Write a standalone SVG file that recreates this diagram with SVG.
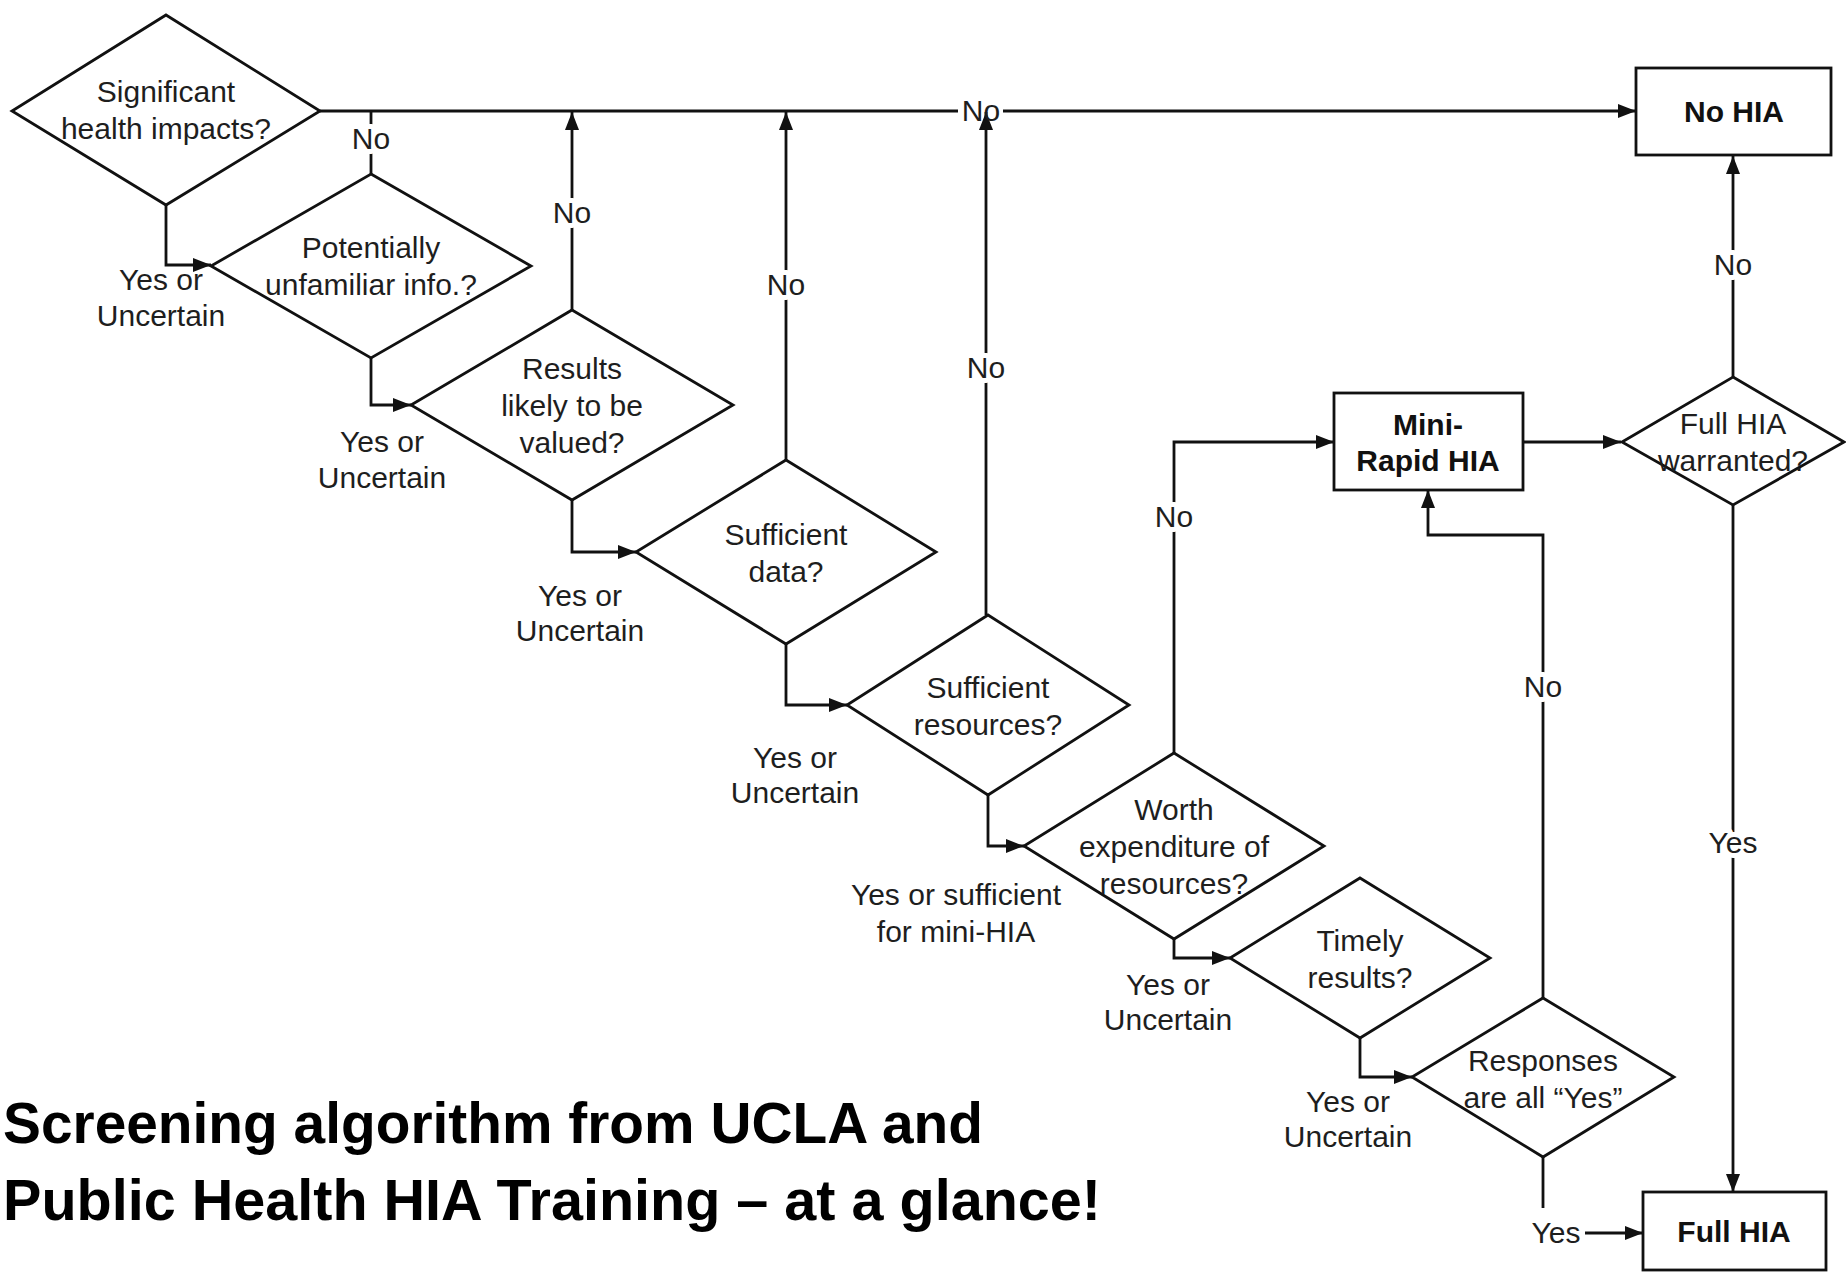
<svg xmlns="http://www.w3.org/2000/svg" width="1846" height="1273" viewBox="0 0 1846 1273">
<style>
.shape{fill:#fff;stroke:#111;stroke-width:2.8}
.t{font-family:"Liberation Sans",Arial,sans-serif;font-size:30px;fill:#1e1e1e;text-anchor:middle}
.b{font-weight:bold;fill:#111}
.halo{stroke:#fff;stroke-width:10;paint-order:stroke;stroke-linejoin:round}
.c{fill:none;stroke:#111;stroke-width:2.8}
.title{font-family:"Liberation Sans",Arial,sans-serif;font-size:58px;font-weight:bold;fill:#000}
</style>
<defs>
<marker id="ah" markerUnits="userSpaceOnUse" markerWidth="18" markerHeight="14" refX="18" refY="7" orient="auto">
<path d="M0,0 L18,7 L0,14 z" fill="#111"/>
</marker>
</defs>
<rect width="1846" height="1273" fill="#fff"/>

<g id="connectors">
<path class="c" d="M320,111 H958"/>
<path class="c" d="M1003,111 H1636" marker-end="url(#ah)"/>
<path class="c" d="M371,174 V111"/>
<path class="c" d="M572,310 V112" marker-end="url(#ah)"/>
<path class="c" d="M786,460 V112" marker-end="url(#ah)"/>
<path class="c" d="M986,615 V112" marker-end="url(#ah)"/>
<path class="c" d="M1174,753 V442 H1334" marker-end="url(#ah)"/>
<path class="c" d="M1523,442 H1621" marker-end="url(#ah)"/>
<path class="c" d="M1543,998 V535 H1428 V490" marker-end="url(#ah)"/>
<path class="c" d="M1733,377 V156" marker-end="url(#ah)"/>
<path class="c" d="M1733,505 V1192" marker-end="url(#ah)"/>
<path class="c" d="M1543,1157 V1208"/>
<path class="c" d="M1585,1233 H1643" marker-end="url(#ah)"/>
<path class="c" d="M166,205 V265 H211" marker-end="url(#ah)"/>
<path class="c" d="M371,358 V405 H411" marker-end="url(#ah)"/>
<path class="c" d="M572,500 V552 H636" marker-end="url(#ah)"/>
<path class="c" d="M786,644 V705 H847" marker-end="url(#ah)"/>
<path class="c" d="M988,795 V846 H1024" marker-end="url(#ah)"/>
<path class="c" d="M1174,939 V958 H1230" marker-end="url(#ah)"/>
<path class="c" d="M1360,1038 V1077 H1412" marker-end="url(#ah)"/>
</g>

<g id="labels">
<text class="t" x="981" y="121">No</text>
<text class="t halo" x="371" y="149">No</text>
<text class="t halo" x="572" y="223">No</text>
<text class="t halo" x="786" y="295">No</text>
<text class="t halo" x="986" y="378">No</text>
<text class="t halo" x="1174" y="527">No</text>
<text class="t halo" x="1543" y="697">No</text>
<text class="t halo" x="1733" y="275">No</text>
<text class="t halo" x="1733" y="853">Yes</text>
<text class="t" x="1556" y="1243">Yes</text>
<text class="t" x="161" y="290">Yes or</text>
<text class="t" x="161" y="326">Uncertain</text>
<text class="t" x="382" y="452">Yes or</text>
<text class="t" x="382" y="488">Uncertain</text>
<text class="t" x="580" y="606">Yes or</text>
<text class="t" x="580" y="641">Uncertain</text>
<text class="t" x="795" y="768">Yes or</text>
<text class="t" x="795" y="803">Uncertain</text>
<text class="t" x="956" y="905">Yes or sufficient</text>
<text class="t" x="956" y="942">for mini-HIA</text>
<text class="t" x="1168" y="995">Yes or</text>
<text class="t" x="1168" y="1030">Uncertain</text>
<text class="t" x="1348" y="1112">Yes or</text>
<text class="t" x="1348" y="1147">Uncertain</text>
</g>

<g id="d1">
<polygon class="shape" points="166,15 320,111 166,205 12,111"/>
<text class="t" x="166" y="102">Significant</text>
<text class="t" x="166" y="139">health impacts?</text>
</g>
<g id="d2">
<polygon class="shape" points="371,174 531,266 371,358 211,266"/>
<text class="t" x="371" y="258">Potentially</text>
<text class="t" x="371" y="295">unfamiliar info.?</text>
</g>
<g id="d3">
<polygon class="shape" points="572,310 733,405 572,500 411,405"/>
<text class="t" x="572" y="379">Results</text>
<text class="t" x="572" y="416">likely to be</text>
<text class="t" x="572" y="453">valued?</text>
</g>
<g id="d4">
<polygon class="shape" points="786,460 936,552 786,644 636,552"/>
<text class="t" x="786" y="545">Sufficient</text>
<text class="t" x="786" y="582">data?</text>
</g>
<g id="d5">
<polygon class="shape" points="988,615 1129,705 988,795 847,705"/>
<text class="t" x="988" y="698">Sufficient</text>
<text class="t" x="988" y="735">resources?</text>
</g>
<g id="d6">
<polygon class="shape" points="1174,753 1324,846 1174,939 1024,846"/>
<text class="t" x="1174" y="820">Worth</text>
<text class="t" x="1174" y="857">expenditure of</text>
<text class="t" x="1174" y="894">resources?</text>
</g>
<g id="d7">
<polygon class="shape" points="1360,878 1490,958 1360,1038 1230,958"/>
<text class="t" x="1360" y="951">Timely</text>
<text class="t" x="1360" y="988">results?</text>
</g>
<g id="d8">
<polygon class="shape" points="1543,998 1674,1077 1543,1157 1412,1077"/>
<text class="t" x="1543" y="1071">Responses</text>
<text class="t" x="1543" y="1108">are all  “Yes”</text>
</g>
<g id="d9">
<polygon class="shape" points="1733,377 1844,442 1733,505 1622,442"/>
<text class="t" x="1733" y="434">Full HIA</text>
<text class="t" x="1733" y="471">warranted?</text>
</g>
<g id="nohia">
<rect class="shape" x="1636" y="68" width="195" height="87"/>
<text class="t b" x="1734" y="122">No HIA</text>
</g>
<g id="mini">
<rect class="shape" x="1334" y="393" width="189" height="97"/>
<text class="t b" x="1428" y="435">Mini-</text>
<text class="t b" x="1428" y="471">Rapid HIA</text>
</g>
<g id="fullhia">
<rect class="shape" x="1643" y="1192" width="183" height="78"/>
<text class="t b" x="1734" y="1242">Full HIA</text>
</g>

<g id="title">
<text class="title" x="3" y="1143" textLength="980" lengthAdjust="spacingAndGlyphs">Screening algorithm from UCLA and</text>
<text class="title" x="3" y="1220" textLength="1098" lengthAdjust="spacingAndGlyphs">Public Health HIA Training – at a glance!</text>
</g>
</svg>
